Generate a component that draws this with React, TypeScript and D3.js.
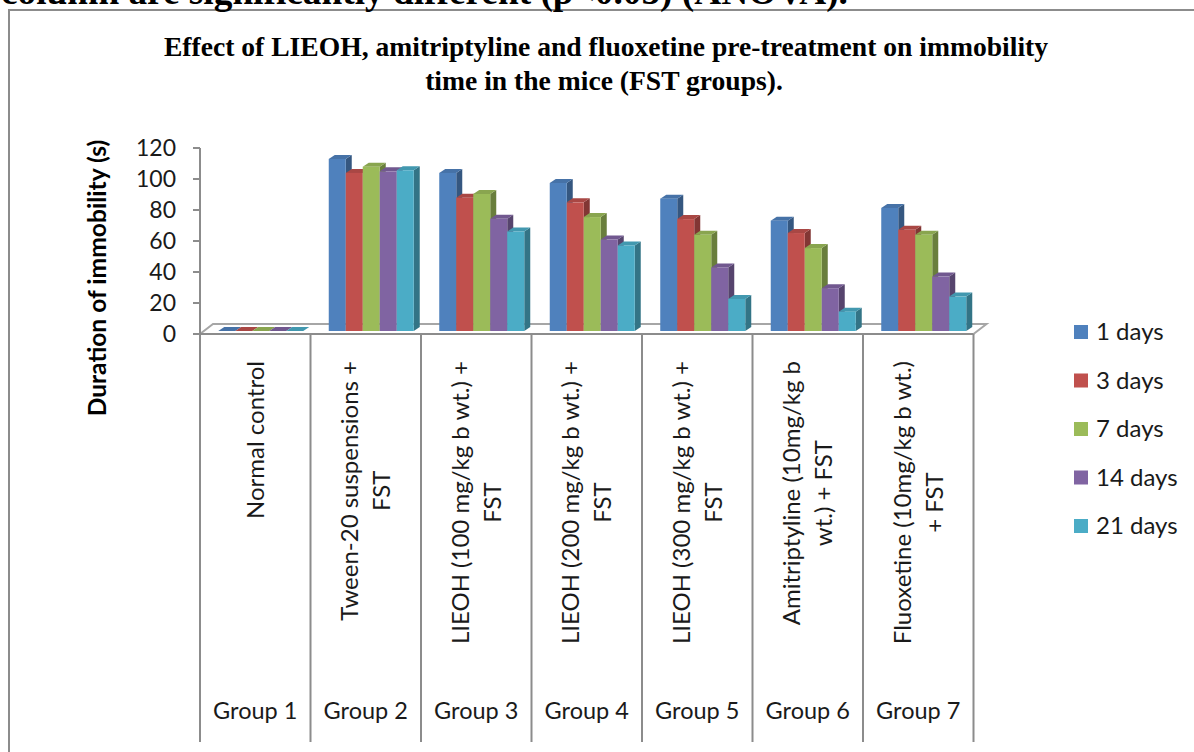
import React, { useEffect, useRef } from 'react';
import * as d3 from 'd3';

// Chart data
const groups = ['Group 1', 'Group 2', 'Group 3', 'Group 4', 'Group 5', 'Group 6', 'Group 7'];
const treatments: string[][] = [
  ['Normal control'],
  ['Tween-20 suspensions +', 'FST'],
  ['LIEOH (100 mg/kg b wt.) +', 'FST'],
  ['LIEOH (200 mg/kg b wt.) +', 'FST'],
  ['LIEOH (300 mg/kg b wt.) +', 'FST'],
  ['Amitriptyline (10mg/kg b', 'wt.) + FST'],
  ['Fluoxetine (10mg/kg b wt.)', '+ FST'],
];
const seriesNames = ['1 days', '3 days', '7 days', '14 days', '21 days'];
const seriesColors = ['#4F81BD', '#C0504D', '#9BBB59', '#8064A2', '#4BACC6'];
const day1 = [0, 111, 102, 95.5, 85.4, 71.2, 79.4];
const day3 = [0, 102, 86, 83, 72.2, 63.2, 65.3];
const day7 = [0, 106, 88.4, 73.5, 62.1, 53.5, 62.1];
const day14 = [0, 103, 72.4, 59, 41, 27.6, 35.1];
const day21 = [0, 103.7, 64.2, 55.2, 20.7, 12.5, 22.2];
const seriesValues = [day1, day3, day7, day14, day21];
const yTicks = [0, 20, 40, 60, 80, 100, 120];

const W = 1194;
const H = 752;
const SANS = 'Lato, "Open Sans", sans-serif';
const SERIF = '"Liberation Serif", "Times New Roman", serif';

export default function App() {
  const ref = useRef<SVGSVGElement | null>(null);

  useEffect(() => {
    const svg = d3.select(ref.current);
    svg.selectAll('*').remove();

    const axisColor = '#8c8c8c';
    const plotLeft = 200;
    const plotRight = 973.5;
    const floorY = 334;
    const depthX = 13;
    const depthY = -10;
    const catBottom = 742;

    // frame
    svg.append('rect')
      .attr('x', 9).attr('y', 10).attr('width', W + 40).attr('height', H + 40)
      .attr('fill', 'white').attr('stroke', axisColor).attr('stroke-width', 2);

    // caption line running off the top edge
    svg.append('text')
      .attr('x', 1).attr('y', 4)
      .attr('font-family', SERIF).attr('font-weight', 'bold').attr('font-size', 37.3)
      .attr('fill', '#000')
      .text('column are significantly different (p<0.05) (ANOVA).');

    // title
    const title = svg.append('text')
      .attr('text-anchor', 'middle')
      .attr('font-family', SERIF).attr('font-weight', 'bold').attr('font-size', 27.6)
      .attr('fill', '#000');
    title.append('tspan').attr('x', 606).attr('y', 56)
      .text('Effect of LIEOH, amitriptyline and fluoxetine pre-treatment on immobility');
    title.append('tspan').attr('x', 604).attr('y', 90)
      .text('time in the mice (FST groups).');

    // scales
    const yAxis = d3.scaleLinear().domain([0, 120]).range([floorY, 148]);
    const yBar = (v: number) => yAxis(v) - 3;
    const x0 = d3.scaleBand<string>().domain(groups).range([plotLeft, plotRight]).padding(0);
    const clusterW = 85;
    const x1 = d3.scaleBand<string>().domain(seriesNames).range([0, clusterW]).padding(0);
    const midShift = depthX / 2 - 1;

    // floor
    svg.append('path')
      .attr('d', `M${plotLeft},${floorY} L${plotLeft + depthX},${floorY + depthY} L${plotRight + depthX},${floorY + depthY} L${plotRight},${floorY}`)
      .attr('fill', 'none').attr('stroke', '#a6a6a6').attr('stroke-width', 2);

    // y axis
    svg.append('line')
      .attr('x1', plotLeft).attr('x2', plotLeft).attr('y1', yAxis(120)).attr('y2', floorY)
      .attr('stroke', axisColor).attr('stroke-width', 2);
    const yt = svg.append('g');
    yTicks.forEach((t) => {
      yt.append('line')
        .attr('x1', plotLeft - 7).attr('x2', plotLeft).attr('y1', yAxis(t)).attr('y2', yAxis(t))
        .attr('stroke', axisColor).attr('stroke-width', 2);
      yt.append('text')
        .attr('x', 176).attr('y', yAxis(t)).attr('dy', '0.35em')
        .attr('text-anchor', 'end')
        .attr('font-family', SANS).attr('font-size', 23).attr('fill', '#1a1a1a')
        .text(String(t));
    });

    // y axis title
    svg.append('text')
      .attr('transform', 'translate(106,278) rotate(-90)')
      .attr('text-anchor', 'middle')
      .attr('font-family', SANS).attr('font-weight', 'bold').attr('font-size', 24.6).attr('fill', '#000')
      .text('Duration of immobility (s)');

    // bars (3D columns: front, side, top)
    const dx = 6;
    const dy = -4;
    const base = yBar(0);
    groups.forEach((g, gi) => {
      const gx = (x0(g) as number) + (x0.bandwidth() - clusterW) / 2 + midShift;
      seriesNames.forEach((s, si) => {
        const v = seriesValues[si][gi];
        const c = d3.color(seriesColors[si]) as d3.RGBColor;
        const x = gx + (x1(s) as number);
        const w = x1.bandwidth();
        const top = yBar(v);
        const bar = svg.append('g');
        bar.append('path')
          .attr('d', `M${x + w},${top} L${x + w + dx},${top + dy} L${x + w + dx},${base + dy} L${x + w},${base} Z`)
          .attr('fill', c.darker(1.1).formatHex());
        bar.append('path')
          .attr('d', `M${x},${top} L${x + dx},${top + dy} L${x + w + dx},${top + dy} L${x + w},${top} Z`)
          .attr('fill', c.darker(0.35).formatHex());
        bar.append('rect')
          .attr('x', x).attr('y', top).attr('width', w).attr('height', Math.max(0, base - top))
          .attr('fill', c.formatHex());
      });
    });

    // category axis
    svg.append('line')
      .attr('x1', plotLeft - 7).attr('x2', plotRight).attr('y1', floorY).attr('y2', floorY)
      .attr('stroke', axisColor).attr('stroke-width', 2);
    const bounds = groups.map((g) => x0(g) as number).concat([plotRight]);
    bounds.forEach((bx) => {
      svg.append('line')
        .attr('x1', bx).attr('x2', bx).attr('y1', floorY).attr('y2', catBottom)
        .attr('stroke', axisColor).attr('stroke-width', 2);
    });

    // treatment labels (rotated, top-aligned under the axis)
    groups.forEach((g, gi) => {
      const cx = (x0(g) as number) + x0.bandwidth() / 2;
      const lines = treatments[gi];
      const grp = svg.append('g');
      const t = grp.append('text')
        .attr('text-anchor', 'middle')
        .attr('font-family', SANS).attr('font-size', 24).attr('fill', '#1a1a1a');
      lines.forEach((ln, li) => {
        t.append('tspan')
          .attr('x', 0)
          .attr('y', (li - (lines.length - 1) / 2) * 32)
          .attr('dy', '0.35em')
          .text(ln);
      });
      const node = t.node() as SVGTextElement;
      let maxLen = 0;
      node.querySelectorAll('tspan').forEach((sp) => {
        maxLen = Math.max(maxLen, (sp as SVGTSpanElement).getComputedTextLength());
      });
      grp.attr('transform', `translate(${cx},${361 + maxLen / 2}) rotate(-90)`);

      svg.append('text')
        .attr('x', cx).attr('y', 719)
        .attr('text-anchor', 'middle')
        .attr('font-family', SANS).attr('font-size', 23.5).attr('fill', '#1a1a1a')
        .text(g);
    });

    // legend
    seriesNames.forEach((s, si) => {
      const cy = 332 + si * 48.5;
      svg.append('rect')
        .attr('x', 1074).attr('y', cy - 7).attr('width', 14).attr('height', 14)
        .attr('fill', seriesColors[si]);
      svg.append('text')
        .attr('x', 1096).attr('y', cy).attr('dy', '0.35em')
        .attr('font-family', SANS).attr('font-size', 24).attr('fill', '#1a1a1a')
        .text(s);
    });
  }, []);

  return (
    <svg
      ref={ref}
      width={W}
      height={H}
      style={{ position: 'absolute', left: 0, top: 0, display: 'block', background: 'white' }}
    />
  );
}
